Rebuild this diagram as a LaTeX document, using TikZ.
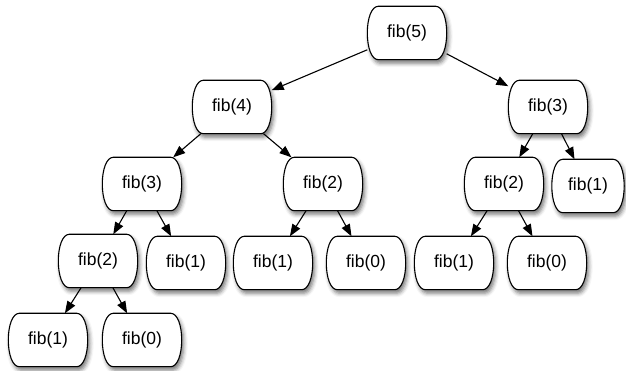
\documentclass[tikz,border=0pt]{standalone}
\usepackage{fontspec}
\setmainfont{Liberation Sans}
\usetikzlibrary{arrows.meta,calc,backgrounds,shadows.blur}
\begin{document}
\begin{tikzpicture}[x=1pt,y=1pt,
  call/.style={minimum width=79pt,minimum height=53pt,inner sep=0pt,
    font=\fontsize{17.5}{20}\selectfont},
  narrowcall/.style={call,minimum width=72pt},
  outline/.style={draw=black,line width=1.1pt,fill=white,
    blur shadow={shadow xshift=2pt,shadow yshift=-3.5pt,
      shadow blur radius=4pt,shadow opacity=55}},
  link/.style={draw=black,line width=1.1pt,-{Triangle[length=12pt,width=9pt]}}
]
\useasboundingbox (0,0) rectangle (626,371);

% call tree of fib(5)
\node[call] (n5)   at (407,338) {fib(5)};
\node[call] (n4)   at (232,264) {fib(4)};
\node[call] (n3r)  at (548,264) {fib(3)};
\node[call] (n3l)  at (142,187) {fib(3)};
\node[call] (n2m)  at (323,187) {fib(2)};
\node[call] (n2r)  at (504,187) {fib(2)};
\node[narrowcall] (n1rr) at (588,185) {fib(1)};
\node[call] (n2l)  at (98,110)  {fib(2)};
\node[call] (n1a)  at (186,108) {fib(1)};
\node[call] (n1b)  at (273,108) {fib(1)};
\node[call] (n0b)  at (366,108) {fib(0)};
\node[call] (n1c)  at (454,108) {fib(1)};
\node[call] (n0c)  at (547,108) {fib(0)};
\node[call] (n1d)  at (48,31)   {fib(1)};
\node[call] (n0d)  at (142,31)  {fib(0)};

% box outlines with slightly bulging sides, behind the labels
\begin{pgfonlayer}{background}
\foreach \n in {n5,n4,n3r,n3l,n2m,n2r,n1rr,n2l,n1a,n1b,n0b,n1c,n0c,n1d,n0d} {
  \path[outline] ($(\n.north west)+(11,0)$) -- ($(\n.north east)+(-11,0)$)
    .. controls +(7,0) and +(0,14) .. (\n.east)
    .. controls +(0,-14) and +(7,0) .. ($(\n.south east)+(-11,0)$)
    -- ($(\n.south west)+(11,0)$)
    .. controls +(-7,0) and +(0,-14) .. (\n.west)
    .. controls +(0,14) and +(-7,0) .. ($(\n.north west)+(11,0)$) -- cycle;
}
\end{pgfonlayer}

% recursive calls
\draw[link] (n5) -- (n4);
\draw[link] (n5) -- (n3r);
\draw[link] (n4) -- (n3l);
\draw[link] (n4) -- (n2m);
\draw[link] (n3r) -- (n2r);
\draw[link] (n3r) -- (n1rr);
\draw[link] (n3l) -- (n2l);
\draw[link] (n3l) -- (n1a);
\draw[link] (n2m) -- (n1b);
\draw[link] (n2m) -- (n0b);
\draw[link] (n2r) -- (n1c);
\draw[link] (n2r) -- (n0c);
\draw[link] (n2l) -- (n1d);
\draw[link] (n2l) -- (n0d);
\end{tikzpicture}
\end{document}
